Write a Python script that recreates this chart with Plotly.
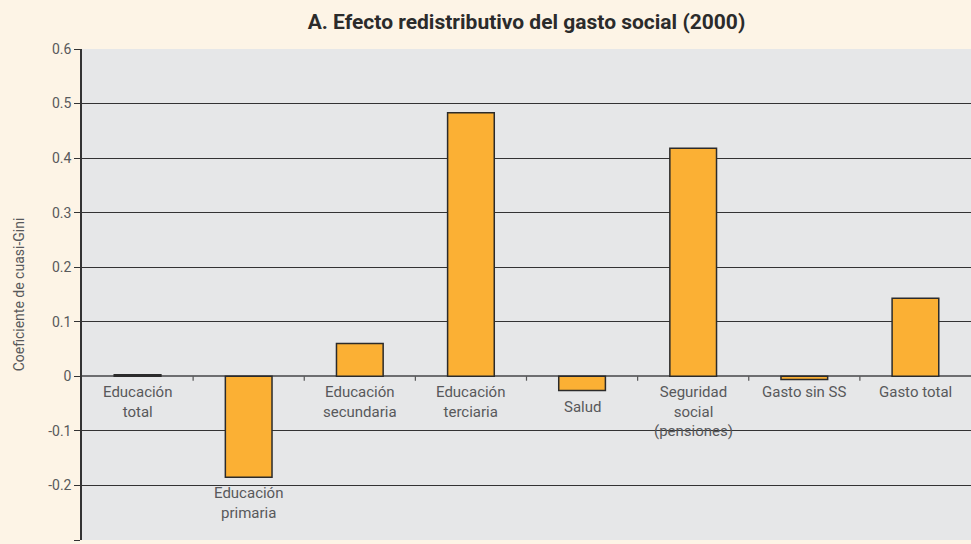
"""Efecto redistributivo del gasto social (2000) - bar chart with Plotly."""

import plotly.graph_objects as go

categories = [
    "Educación<br>total",
    "Educación<br>primaria",
    "Educación<br>secundaria",
    "Educación<br>terciaria",
    "Salud",
    "Seguridad<br>social<br>(pensiones)",
    "Gasto sin SS",
    "Gasto total",
]
quasi_gini = [0.003, -0.185, 0.060, 0.483, -0.026, 0.418, -0.006, 0.143]
y_ticks = [-0.3, -0.2, -0.1, 0, 0.1, 0.2, 0.3, 0.4, 0.5, 0.6]

TEXT = "#58595b"
FONT = "Roboto"

fig = go.Figure()
fig.add_trace(
    go.Bar(
        x=list(range(len(categories))),
        y=quasi_gini,
        width=0.42,
        marker=dict(color="#fbb034", line=dict(color="#2b2b2b", width=1.5)),
        hoverinfo="y",
    )
)

# category labels sit under the zero line, or under the bar when it goes below
for i, (cat, val) in enumerate(zip(categories, quasi_gini)):
    base = val if val < -0.01 else 0
    fig.add_annotation(
        x=i, y=base, xref="x", yref="y", text=cat, showarrow=False,
        yanchor="top", yshift=-5, font=dict(family=FONT, size=15, color=TEXT),
    )

# small tick marks on the zero line between categories
for i in range(len(categories) - 1):
    fig.add_shape(
        type="line", xref="x", yref="y", x0=i + 0.5, x1=i + 0.5, y0=0, y1=-0.008,
        line=dict(color="#555555", width=1.2),
    )

fig.update_layout(
    width=971,
    height=544,
    margin=dict(l=82, r=0, t=49, b=4, autoexpand=False),
    paper_bgcolor="#fdf4e6",
    plot_bgcolor="#e6e7e8",
    showlegend=False,
    title=dict(
        text="<b>A. Efecto redistributivo del gasto social (2000)</b>",
        x=(82 + 971) / 2 / 971, xanchor="center", y=1 - 22 / 544, yanchor="middle",
        font=dict(family=FONT, size=21, color="#2b2b2b"),
        automargin=False,
    ),
    font=dict(family=FONT, color=TEXT),
    xaxis=dict(
        range=[-0.5, len(categories) - 0.5],
        showticklabels=False, showgrid=False, zeroline=False, ticks="",
        automargin=False,
    ),
    yaxis=dict(
        range=[-0.3, 0.6],
        automargin=False,
        tickvals=y_ticks,
        ticktext=[("%g" % v) for v in y_ticks],
        tickfont=dict(family=FONT, size=14, color=TEXT),
        ticks="outside", ticklen=6, tickcolor="#333333",
        showgrid=True, gridcolor="#333333", gridwidth=1,
        zeroline=True, zerolinecolor="#6d6e70", zerolinewidth=1.5,
        showline=True, linecolor="#333333", linewidth=1.5,
        title=dict(text="Coeficiente de cuasi-Gini", standoff=20,
                   font=dict(family=FONT, size=14, color=TEXT)),
    ),
)

fig.write_html(
    "out.html",
    config={"displayModeBar": False},
    post_script="document.body.style.margin = '0';",
)
